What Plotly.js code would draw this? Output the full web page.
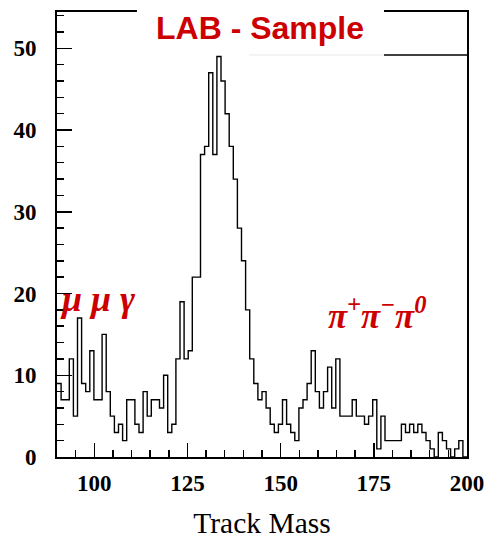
<!DOCTYPE html>
<html>
<head>
<meta charset="utf-8">
<script src="https://cdn.plot.ly/plotly-3.0.1.min.js"></script>
<style>html,body{margin:0;padding:0;background:#fff;}#chart{width:486px;height:539px;}</style>
</head>
<body>
<div id="chart"></div>
<script>
// Histogram: 100 bins from 90 to 200 (bin width 1.1)
const binLow = 90;
const binHigh = 200;
const counts = [
  9, 7, 7, 12, 5, 17, 9, 8, 13, 7,
  7, 15, 8, 5, 3, 4, 2, 7, 7, 4,
  3, 8, 5, 7, 7, 6, 10, 3, 4, 12,
  19, 12, 13, 22, 22, 37, 38, 47, 37, 49,
  46, 42, 38, 34, 28, 24, 18, 12, 9, 7,
  8, 6, 4, 3, 4, 7, 4, 3, 2, 6,
  7, 9, 13, 8, 6, 8, 11, 6, 12, 5,
  5, 5, 7, 5, 5, 4, 5, 7, 1, 5,
  2, 2, 2, 2, 4, 3, 4, 3, 4, 3,
  2, 1, 0, 3, 2, 1, 0, 1, 2, 0
];
const xTickVals = [100, 125, 150, 175, 200];
const yTickVals = [0, 10, 20, 30, 40, 50];
const titleText = 'LAB - Sample';
const xTitle = 'Track Mass';
const label1 = 'μ μ γ';
const label2 = 'π<sup>+</sup>π<sup>−</sup>π<sup>0</sup>';

const nb = counts.length;
const w = (binHigh - binLow) / nb;
const xs = [], ys = [];
for (let i = 0; i < nb; i++) { xs.push(binLow + i * w); ys.push(counts[i]); }
xs.push(binHigh); ys.push(counts[nb - 1]);

const red = '#cc0000';
const trace = {
  x: xs, y: ys, type: 'scatter', mode: 'lines',
  line: {shape: 'hv', color: '#000', width: 1.4},
  hoverinfo: 'skip', showlegend: false
};

const tickFont = {family: 'Liberation Serif, Times New Roman, serif', size: 23, color: '#000', weight: 700};

const layout = {
  width: 486, height: 539,
  margin: {l: 57, r: 19, t: 12, b: 82},
  paper_bgcolor: '#fff', plot_bgcolor: '#fff',
  showlegend: false,
  xaxis: {
    range: [binLow, binHigh], tickvals: xTickVals, ticktext: xTickVals.map(String),
    ticks: 'inside', ticklen: 14, tickwidth: 1.5, tickcolor: '#000',
    minor: {dtick: 5, tick0: 0, ticks: 'inside', ticklen: 7, tickwidth: 1.5, tickcolor: '#000', showgrid: false},
    showline: true, linecolor: '#000', linewidth: 2, mirror: true,
    showgrid: false, zeroline: false, tickfont: tickFont, ticklabelstandoff: 4,
    title: {text: xTitle, font: {family: 'Liberation Serif, Times New Roman, serif', size: 29.5, color: '#000'}, standoff: 18}
  },
  yaxis: {
    range: [0, 54.44], tickvals: yTickVals, ticktext: yTickVals.map(String),
    ticks: 'inside', ticklen: 15, tickwidth: 1.5, tickcolor: '#000',
    minor: {dtick: 2, tick0: 0, ticks: 'inside', ticklen: 7, tickwidth: 1.5, tickcolor: '#000', showgrid: false},
    showline: true, linecolor: '#000', linewidth: 2, mirror: true,
    showgrid: false, zeroline: false, tickfont: tickFont, ticklabelstandoff: 14
  },
  shapes: [
    {type: 'rect', xref: 'paper', yref: 'paper', x0: 0.195, x1: 0.7976, y0: 0.9034, y1: 1.03,
     fillcolor: '#fff', line: {width: 0}, layer: 'above'},
    {type: 'line', xref: 'paper', yref: 'paper', x0: 0.7976, x1: 1, y0: 0.9034, y1: 0.9034,
     line: {color: '#000', width: 1.5}, layer: 'above'},
    {type: 'line', xref: 'paper', yref: 'paper', x0: 0.468, x1: 0.7976, y0: 0.9034, y1: 0.9034,
     line: {color: '#e8e8e8', width: 1}, layer: 'above'}
  ],
  annotations: [
    {text: '<b>' + titleText + '</b>', xref: 'paper', yref: 'paper', x: 0.496, y: 0.965,
     xanchor: 'center', yanchor: 'middle', showarrow: false,
     font: {family: 'Liberation Sans, Arial, sans-serif', size: 32, color: red}},
    {text: '<b><i>' + label1 + '</i></b>', xref: 'x', yref: 'y', x: 100.8, y: 19.3,
     xanchor: 'center', yanchor: 'middle', showarrow: false,
     font: {family: 'Liberation Serif, Times New Roman, serif', size: 36, color: red}},
    {text: '<b><i>' + label2 + '</i></b>', xref: 'x', yref: 'y', x: 175.9, y: 17.6,
     xanchor: 'center', yanchor: 'middle', showarrow: false,
     font: {family: 'Liberation Serif, Times New Roman, serif', size: 35, color: red}}
  ]
};

Plotly.newPlot('chart', [trace], layout, {staticPlot: true, displayModeBar: false});
</script>
</body>
</html>
